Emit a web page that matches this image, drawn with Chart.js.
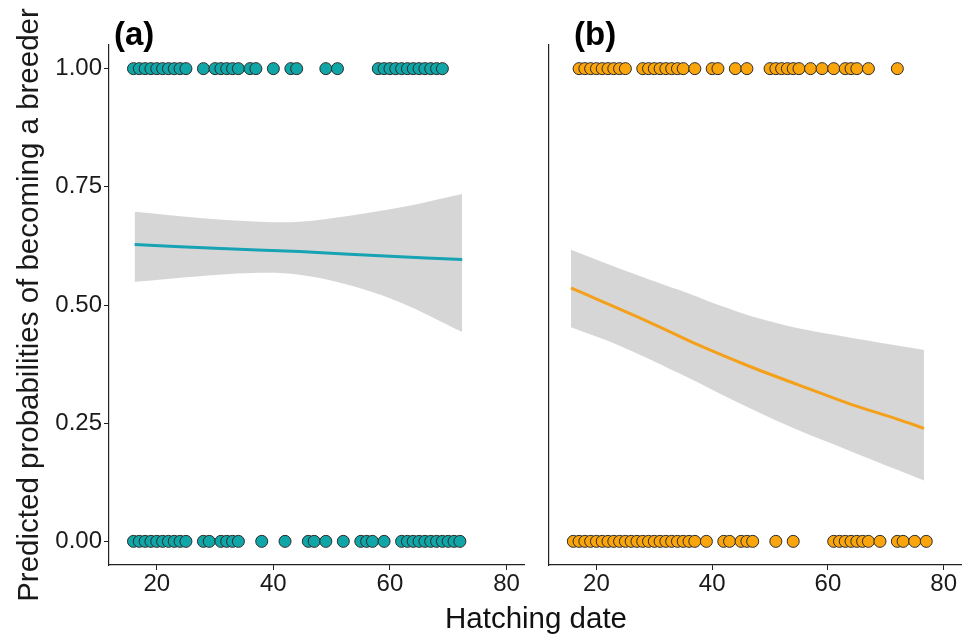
<!DOCTYPE html>
<html>
<head>
<meta charset="utf-8">
<script src="https://cdn.jsdelivr.net/npm/chart.js@4.4.1/dist/chart.umd.min.js"></script>
<style>
  html, body { margin: 0; padding: 0; background: #ffffff; }
  #wrap { position: relative; width: 968px; height: 634px; background: #ffffff; overflow: hidden;
          font-family: 'Liberation Sans', Arial, sans-serif; }
  canvas { position: absolute; top: 0; }
  .lbl { position: absolute; color: #000; white-space: nowrap; }
</style>
</head>
<body>
<div id="wrap">
  <canvas id="cA" width="540" height="634" style="left:0px"></canvas>
  <canvas id="cB" width="428" height="634" style="left:540px"></canvas>
  <div class="lbl" id="panelA" style="left:114px; top:17px; font-size:33px; line-height:33px; font-weight:bold;">(a)</div>
  <div class="lbl" id="panelB" style="left:574px; top:17px; font-size:33px; line-height:33px; font-weight:bold;">(b)</div>
  <div class="lbl" id="xTitle" style="left:336px; width:400px; text-align:center; top:603px; font-size:29.5px; line-height:29px; color:#111;">Hatching date</div>
</div>
<script>
// ---------- data ----------
const panelLabels = ['(a)', '(b)'];
const xTitle = 'Hatching date';
const yTitle = 'Predicted probabilities of becoming a breeder';

const xTicks = [20, 40, 60, 80];
const xTickLabels = ['20', '40', '60', '80'];
const yTicks = [0, 0.25, 0.5, 0.75, 1];
const yTickLabels = ['0.00', '0.25', '0.50', '0.75', '1.00'];

// Panel (a): hatching dates of birds observed as breeders (1) / non-breeders (0)
const aBreeders = [16,17,18,19,20,21,22,23,24,25, 28,30,31,32,33,34,36,37, 40, 43,44, 49,51,
                   58,59,60,61,62,63,64,65,66,67,68,69];
const aNonBreeders = [16,17,18,19,20,21,22,23,24,25, 28,29,31,32,33,34, 38, 42, 46,47,49, 52,
                      55,56,57,59, 62,63,64,65,66,67,68,69,70,71,72];
// Panel (a): fitted probability and confidence ribbon
const aFitX = [16.2, 30, 44.5, 60, 72.4];
const aFitY = [0.628, 0.620, 0.613, 0.603, 0.596];
const aRibX = [16.2, 27.4, 37.7, 44.5, 53.1, 61.7, 72.4];
const aRibUpper = [0.697, 0.684, 0.676, 0.676, 0.689, 0.706, 0.735];
const aRibLower = [0.549, 0.561, 0.568, 0.564, 0.542, 0.506, 0.443];

// Panel (b)
const bBreeders = [17,18,19,20,21,22,23,24,25, 28,29,30,31,32,33,34,35,37, 40,41, 44,46,
                   50,51,52,53,54,55,57,59,61,63,64,65,67, 72];
const bNonBreeders = [16,17,18,19,20,21,22,23,24,25,26,27,28,29,30,31,32,33,34,35,36,37,39,
                      42,43,45,46,47, 51,54, 61,62,63,64,65,66,67,69, 72,73,75,77];
const bFitX = [15.6, 29.1, 37.7, 46.3, 54.9, 63.5, 72.1, 76.6];
const bFitY = [0.536, 0.464, 0.415, 0.371, 0.331, 0.292, 0.258, 0.239];
const bRibX = [15.6, 23.8, 34.2, 41.1, 48.0, 54.9, 63.5, 76.6];
const bRibUpper = [0.617, 0.578, 0.532, 0.500, 0.472, 0.451, 0.432, 0.405];
const bRibLower = [0.453, 0.415, 0.356, 0.314, 0.273, 0.235, 0.193, 0.129];

// ---------- styling ----------
const FONT = "'Liberation Sans', Arial, sans-serif";
Chart.defaults.font.family = FONT;
const AXIS_COL = '#222222';
const TEXT_COL = '#1a1a1a';
const teal = '#10A6A7', tealLine = '#17A3B3';
const orange = '#FBA50D', orangeLine = '#F5A01A';
const ribbonCol = 'rgba(153,153,153,0.4)';

function pts(xs, ys) { return xs.map((x, i) => ({ x: x, y: ys[i] })); }
function constPts(xs, v) { return xs.map(x => ({ x: x, y: v })); }

function buildChart(id, d, opts) {
  const ctx = document.getElementById(id).getContext('2d');
  return new Chart(ctx, {
    type: 'scatter',
    data: {
      datasets: [
        { type: 'scatter', data: constPts(d.breeders, 1), backgroundColor: d.col, borderColor: '#2a2a2a',
          borderWidth: 1, pointRadius: 6, pointHoverRadius: 6 },
        { type: 'scatter', data: constPts(d.nonBreeders, 0), backgroundColor: d.col, borderColor: '#2a2a2a',
          borderWidth: 1, pointRadius: 6, pointHoverRadius: 6 },
        { type: 'line', data: pts(d.fitX, d.fitY), borderColor: d.lineCol, borderWidth: 3,
          pointRadius: 0, fill: false, tension: 0.3 },
        { type: 'line', data: pts(d.ribX, d.ribUp), borderWidth: 0, borderColor: 'rgba(0,0,0,0)',
          backgroundColor: ribbonCol, pointRadius: 0, fill: '+1', tension: 0.35 },
        { type: 'line', data: pts(d.ribX, d.ribLo), borderWidth: 0, borderColor: 'rgba(0,0,0,0)',
          pointRadius: 0, fill: false, tension: 0.35 }
      ]
    },
    options: {
      responsive: false,
      animation: false,
      events: [],
      layout: { padding: { left: 0, right: opts.padRight, top: 45, bottom: 0 } },
      plugins: { legend: { display: false }, tooltip: { enabled: false } },
      scales: {
        x: {
          type: 'linear', min: 11.8, max: 83,
          afterBuildTicks: s => { s.ticks = xTicks.map(v => ({ value: v })); },
          afterFit: s => { s.height = 69; },
          ticks: { callback: (v, i) => xTickLabels[i], font: { size: 24 }, color: TEXT_COL,
                   padding: 0, maxRotation: 0, autoSkip: false },
          grid: { display: true, drawOnChartArea: false, drawTicks: true, tickLength: 5,
                  color: AXIS_COL, lineWidth: 1 },
          border: { display: true, color: AXIS_COL, width: 1.2 }
        },
        y: {
          type: 'linear', min: -0.05, max: 1.05,
          afterBuildTicks: s => { s.ticks = yTicks.map(v => ({ value: v })); },
          afterFit: s => { s.width = opts.yWidth; },
          title: { display: opts.showY, text: yTitle, font: { size: 29.5 }, color: TEXT_COL,
                   padding: { top: 12, bottom: 0 } },
          ticks: { display: opts.showY, callback: (v, i) => yTickLabels[i], font: { size: 24 },
                   color: TEXT_COL, padding: 2 },
          grid: { display: opts.showY, drawOnChartArea: false, drawTicks: opts.showY, tickLength: 5,
                  color: AXIS_COL, lineWidth: 1 },
          border: { display: true, color: AXIS_COL, width: 1.2 }
        }
      }
    }
  });
}

buildChart('cA', { breeders: aBreeders, nonBreeders: aNonBreeders, col: teal, lineCol: tealLine,
                   fitX: aFitX, fitY: aFitY, ribX: aRibX, ribUp: aRibUpper, ribLo: aRibLower },
           { padRight: 16, yWidth: 109, showY: true });
buildChart('cB', { breeders: bBreeders, nonBreeders: bNonBreeders, col: orange, lineCol: orangeLine,
                   fitX: bFitX, fitY: bFitY, ribX: bRibX, ribUp: bRibUpper, ribLo: bRibLower },
           { padRight: 4.5, yWidth: 9, showY: false });

document.getElementById('panelA').textContent = panelLabels[0];
document.getElementById('panelB').textContent = panelLabels[1];
document.getElementById('xTitle').textContent = xTitle;
</script>
</body>
</html>
